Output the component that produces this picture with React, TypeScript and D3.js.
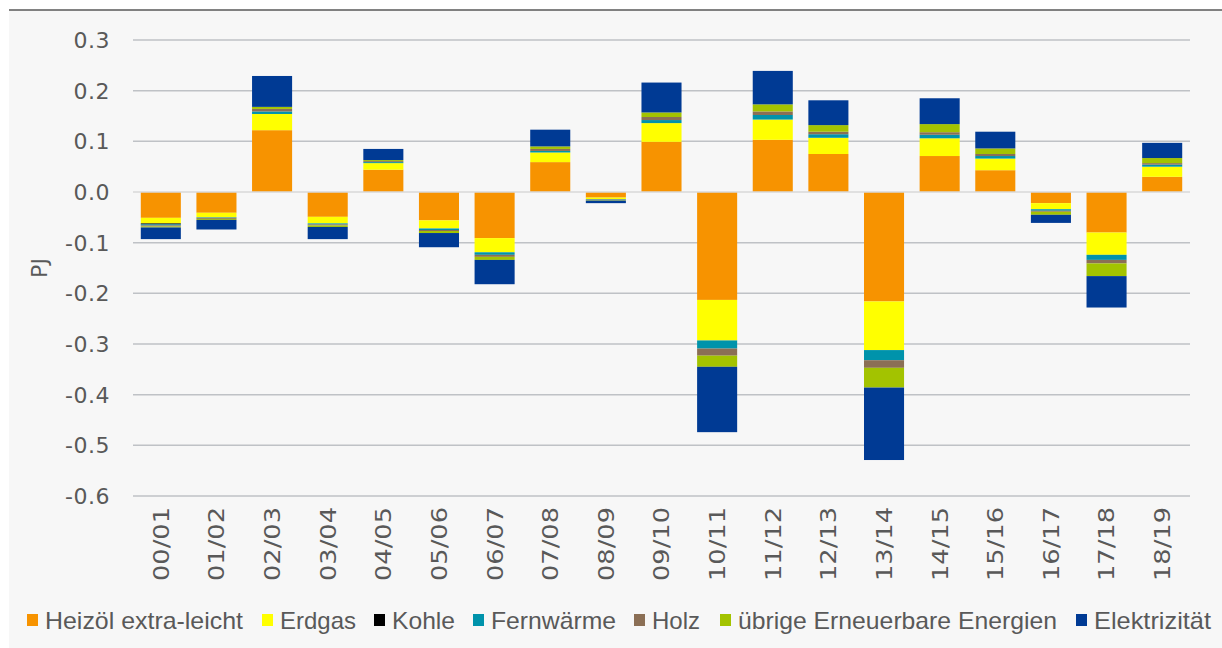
import React, { useRef, useEffect } from "react";
import * as d3 from "d3";

const categories = ["00/01","01/02","02/03","03/04","04/05","05/06","06/07","07/08","08/09","09/10","10/11","11/12","12/13","13/14","14/15","15/16","16/17","17/18","18/19"];

const heizoel = [-0.051,-0.041,0.122,-0.049,0.044,-0.056,-0.091,0.059,-0.011,0.099,-0.213,0.103,0.075,-0.216,0.071,0.043,-0.022,-0.080,0.030];
const erdgas = [-0.011,-0.009,0.032,-0.013,0.013,-0.016,-0.028,0.019,-0.003,0.037,-0.080,0.040,0.032,-0.096,0.035,0.023,-0.012,-0.044,0.020];
const kohle = [-0.002,0,0,0,0,0,0,0,0,0,0,0,0,0,0,0,0,0,0];
const fernwaerme = [-0.002,-0.001,0.005,-0.002,0.002,-0.003,-0.005,0.003,-0.001,0.006,-0.016,0.009,0.007,-0.020,0.007,0.005,-0.003,-0.010,0.004];
const holz = [-0.002,-0.002,0.005,-0.002,0.002,-0.002,-0.004,0.004,-0.001,0.006,-0.014,0.007,0.005,-0.015,0.005,0.004,-0.002,-0.007,0.003];
const uebrige = [-0.002,-0.002,0.004,-0.003,0.002,-0.004,-0.006,0.005,-0.001,0.009,-0.022,0.014,0.013,-0.039,0.016,0.011,-0.006,-0.025,0.010];
const elektrizitaet = [-0.023,-0.019,0.061,-0.024,0.022,-0.028,-0.048,0.033,-0.005,0.059,-0.129,0.066,0.049,-0.143,0.051,0.033,-0.016,-0.062,0.030];

const seriesNames = ["Heizöl extra-leicht","Erdgas","Kohle","Fernwärme","Holz","übrige Erneuerbare Energien","Elektrizität"];
const seriesValues = [heizoel, erdgas, kohle, fernwaerme, holz, uebrige, elektrizitaet];
const seriesColors = ["#F79300","#FFFF00","#000000","#0093AB","#8B6F55","#A3C300","#003A94"];
const yTicks = [0.3,0.2,0.1,0.0,-0.1,-0.2,-0.3,-0.4,-0.5,-0.6];

const TICK_FONT = "'DejaVu Sans', Verdana, sans-serif";
const LEGEND_FONT = "'Liberation Sans', Arial, sans-serif";
const TXT = "#595959";

const Chart = () => {
  const ref = useRef<HTMLDivElement>(null);

  const draw = (elt: HTMLDivElement) => {
    const W = 1222, H = 648;
    d3.select(elt).select("svg").remove();
    const svg = d3.select(elt).append("svg")
      .attr("width", W).attr("height", H)
      .style("position", "absolute").style("left", "0px").style("top", "0px");

    svg.append("rect").attr("x", 9).attr("y", 10).attr("width", W - 9).attr("height", H - 10).attr("fill", "#f7f7f7");
    svg.append("line").attr("x1", 9).attr("x2", W).attr("y1", 10).attr("y2", 10).attr("stroke", "#595959").attr("stroke-width", 1.5);

    const table = categories.map((c, i) => {
      const row: any = { cat: c };
      seriesNames.forEach((n, k) => { row[n] = seriesValues[k][i]; });
      return row;
    });

    const x = d3.scaleBand().domain(categories).range([133, 1190]).paddingInner(0.28).paddingOuter(0.14);
    const y = d3.scaleLinear().domain([-0.6, 0.3]).range([496, 40]);

    // grid
    svg.append("g").selectAll("line").data(yTicks.filter(t => Math.abs(t) > 1e-9)).enter().append("line")
      .attr("x1", 133).attr("x2", 1190)
      .attr("y1", d => y(d)).attr("y2", d => y(d))
      .attr("stroke", "#bfc2c6").attr("stroke-width", 1.5);

    svg.append("g").selectAll("text").data(yTicks).enter().append("text")
      .attr("x", 110).attr("y", d => y(d)).attr("dy", "0.36em")
      .attr("text-anchor", "end").attr("font-size", 22).attr("font-family", TICK_FONT).attr("fill", TXT)
      .attr("letter-spacing", 0.5)
      .text(d => d3.format(".1f")(d).replace("−", "-"));

    svg.append("text").attr("transform", "translate(47,268) rotate(-90)")
      .attr("text-anchor", "middle").attr("font-size", 22).attr("font-family", TICK_FONT).attr("fill", TXT).text("PJ");

    const stack = d3.stack<any>().keys(seriesNames).offset(d3.stackOffsetDiverging);
    const stacked = stack(table);

    svg.append("g").selectAll("g").data(stacked).enter().append("g")
      .attr("fill", (d, i) => seriesColors[i])
      .selectAll("rect").data(d => d).enter().append("rect")
      .attr("x", d => x(d.data.cat) as number)
      .attr("width", x.bandwidth())
      .attr("y", d => y(Math.max(d[0], d[1])))
      .attr("height", d => Math.abs(y(d[0]) - y(d[1])));

    // zero axis
    svg.append("line").attr("x1", 133).attr("x2", 1190).attr("y1", y(0)).attr("y2", y(0))
      .attr("stroke", "#d9d9d9").attr("stroke-width", 1.5);

    svg.append("g").selectAll("text").data(categories).enter().append("text")
      .attr("transform", d => `translate(${(x(d) as number) + x.bandwidth() / 2},507) rotate(-90)`)
      .attr("dy", "0.36em").attr("text-anchor", "end")
      .attr("font-size", 22).attr("font-family", TICK_FONT).attr("fill", TXT)
      .attr("textLength", 74).attr("lengthAdjust", "spacingAndGlyphs")
      .text(d => d);

    // legend
    const legendX = [27, 262, 374, 473, 634, 720, 1076];
    const legendW = [198, 76, 63, 125, 48, 319, 117];
    const lg = svg.append("g").selectAll("g").data(seriesNames).enter().append("g")
      .attr("transform", (d, i) => `translate(${legendX[i]},620)`);
    lg.append("rect").attr("x", 0).attr("y", -6).attr("width", 11).attr("height", 12)
      .attr("fill", (d, i) => seriesColors[i]);
    lg.append("text").attr("x", 18).attr("dy", "0.36em").attr("font-size", 24)
      .attr("font-family", LEGEND_FONT).attr("fill", TXT)
      .attr("textLength", (d, i) => legendW[i]).attr("lengthAdjust", "spacingAndGlyphs")
      .text(d => d);
  };

  useEffect(() => {
    if (ref.current) draw(ref.current);
  }, []);

  return <div ref={ref}></div>;
};

export default function App() {
  return <Chart />;
}
